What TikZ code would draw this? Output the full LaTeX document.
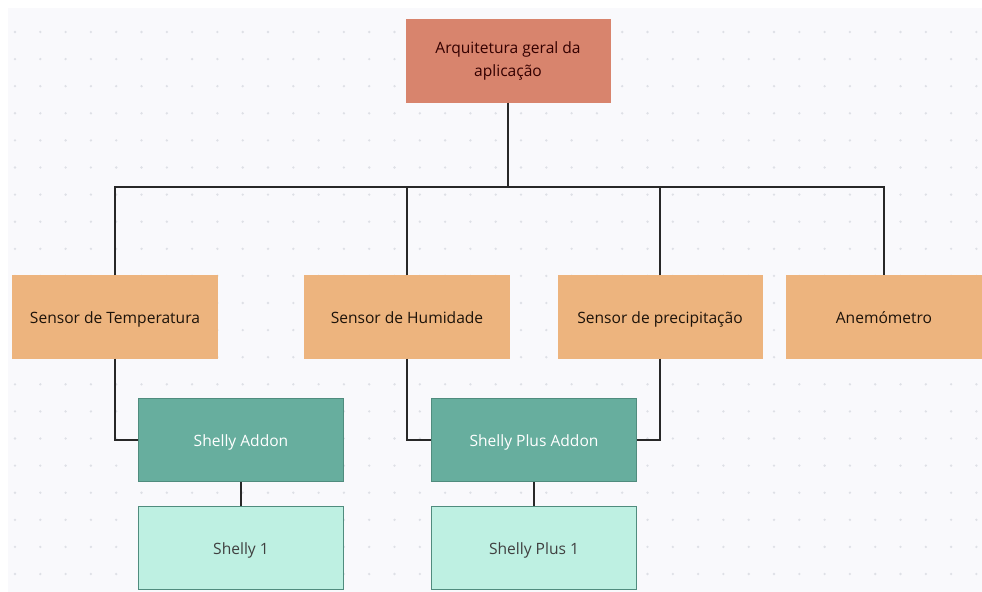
\documentclass[tikz,border=0pt]{standalone}
\usepackage{fontspec}
\setmainfont{Open Sans}
\usepackage{tikz}
\usetikzlibrary{positioning}
\definecolor{canvas}{RGB}{249,249,252}
\definecolor{griddot}{RGB}{222,224,230}
\definecolor{rootfill}{RGB}{216,132,109}
\definecolor{sensorfill}{RGB}{237,180,126}
\definecolor{addonfill}{RGB}{103,174,158}
\definecolor{addonline}{RGB}{80,140,126}
\definecolor{relayfill}{RGB}{190,240,226}
\definecolor{linkcol}{RGB}{40,40,40}

\tikzset{
    box/.style={rectangle, minimum width=6.15cm, minimum height=2.49cm, align=center, font=\fontsize{13.3}{20}\selectfont},
    onerow/.style={text height=2.4ex, text depth=0.2ex},
    rootbox/.style={box, fill=rootfill, text=black!80!red},
    sensorbox/.style={box, onerow, fill=sensorfill, text=black!85!brown},
    addonbox/.style={box, onerow, fill=addonfill, draw=addonline, line width=1.2pt, text=white},
    relaybox/.style={box, onerow, fill=relayfill, draw=addonline, line width=1.2pt, text=black!75},
    link/.style={draw=linkcol, line width=1.5pt}
}

\begin{document}
\begin{tikzpicture}[x=0.03cm, y=-0.03cm]
    \useasboundingbox (0,0) rectangle (982,592);
    \fill[canvas] (8,8) rectangle (982,592);
    % dotted grid
    \foreach \i in {0,...,38}
        \foreach \j in {0,...,20}
            \fill[griddot] (15+25.3*\i, 32+27.1*\j) circle (1.3);

    \node[rootbox] (root) at (508,61) {Arquitetura geral da\\aplicação};

    \node[sensorbox] (temp) at (115,317) {Sensor de Temperatura};
    \node[sensorbox] (hum) at (407,317) {Sensor de Humidade};
    \node[sensorbox] (prec) at (660,317) {Sensor de precipitação};
    \node[sensorbox, minimum width=5.88cm] (anem) at (884,317) {Anemómetro};

    \node[addonbox] (addon) at (241,440) {Shelly Addon};
    \node[addonbox] (plusaddon) at (534,440) {Shelly Plus Addon};
    \node[relaybox] (shelly1) at (241,548) {Shelly 1};
    \node[relaybox] (plus1) at (534,548) {Shelly Plus 1};

    \coordinate (bus) at (508,187);
    \draw[link] (root) -- (bus);
    \draw[link] (temp.north) |- (bus) -| (anem.north);
    \draw[link] (hum.north) -- (hum.north |- bus);
    \draw[link] (prec.north) -- (prec.north |- bus);

    \draw[link] (temp.south) |- (addon.west);
    \draw[link] (hum.south) |- (plusaddon.west);
    \draw[link] (prec.south) |- (plusaddon.east);
    \draw[link] (addon) -- (shelly1);
    \draw[link] (plusaddon) -- (plus1);
\end{tikzpicture}
\end{document}
